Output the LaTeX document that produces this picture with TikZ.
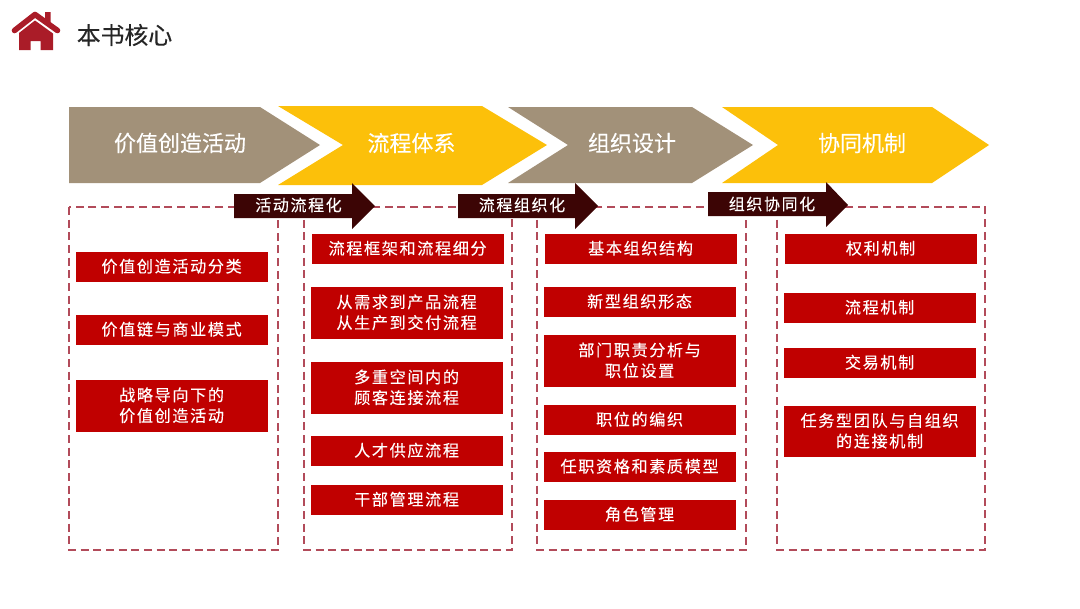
\documentclass[tikz,border=0pt]{standalone}
\usepackage{fontspec}
\setmainfont{Noto Sans CJK SC}
\newfontfamily\cjkbody[LetterSpace=10,FakeBold=0.1]{Noto Sans CJK SC}
\newfontfamily\cjkhead[FakeBold=0.25]{Noto Sans CJK SC}
\usetikzlibrary{positioning}
\definecolor{taupe}{RGB}{162,145,121}
\definecolor{amber}{RGB}{252,192,10}
\definecolor{boxred}{RGB}{192,0,0}
\definecolor{logored}{RGB}{170,28,40}
\definecolor{darkbrown}{RGB}{60,5,5}
\definecolor{dashred}{RGB}{178,75,90}
\definecolor{inkgrey}{RGB}{38,38,38}
\tikzset{
	redbox/.style={fill=boxred, inner sep=0pt},
	redtext/.style={text=white, inner sep=0pt, align=center, xshift=-0.5pt, yshift=0.75pt, font=\fontsize{12.1pt}{15.5pt}\selectfont\cjkbody},
	headtext/.style={text=white, inner sep=0pt, font=\fontsize{16.5pt}{20pt}\selectfont\cjkhead},
	flowtext/.style={text=white, inner sep=0pt, font=\fontsize{12pt}{15pt}\selectfont\cjkbody},
	dashbox/.style={draw=dashred, line width=1pt, dash pattern=on 6pt off 3.5pt}
}
\newcommand{\redrect}[6]{\node[redbox, minimum width=#3*0.75pt, minimum height=#4*0.75pt, anchor=north west, label={[redtext]center:{#6}}] (#5) at (#1,#2) {};}
\begin{document}
\begin{tikzpicture}[x=0.75pt, y=-0.75pt]
	\useasboundingbox (0,0) rectangle (1080,608);
	% logo
	\fill[logored] (45,12) -- (50.5,12) -- (50.5,24) -- (45,20) -- cycle;
	\draw[logored, line width=4.2pt, line cap=round, line join=round] (14.5,30.5) -- (35,14.5) -- (57.5,30.5);
	\fill[logored] (35,20.5) -- (53,33.5) -- (53,50) -- (40.5,50) -- (40.5,41) -- (30.5,41) -- (30.5,50) -- (19,50) -- (19,33) -- cycle;
	\node[anchor=west, inner sep=0pt, text=inkgrey, font=\fontsize{17.9pt}{20pt}\selectfont\cjkhead] (title) at (76.5,35) {本书核心};
	% top chevrons
	\fill[taupe] (69,107) -- (260,107) -- (320,145) -- (260,183) -- (69,183) -- cycle;
	\fill[amber] (278,106) -- (482,106) -- (547,145) -- (482,185) -- (278,185) -- (343,145) -- cycle;
	\fill[taupe] (508,107) -- (692,107) -- (753,145) -- (692,183) -- (508,183) -- (568,145) -- cycle;
	\fill[amber] (722,107) -- (932,107) -- (989,145) -- (932,183) -- (722,183) -- (778,145) -- cycle;
	\node[headtext] (value) at (180,143) {价值创造活动};
	\node[headtext] (process) at (411.5,143) {流程体系};
	\node[headtext] (organize) at (632,143) {组织设计};
	\node[headtext] (synergy) at (862,143) {协同机制};
	% dashed frames
	\draw[dashbox] (69,207) rectangle (278,550);
	\draw[dashbox] (304,207) rectangle (512,550);
	\draw[dashbox] (537,207) rectangle (746,550);
	\draw[dashbox] (777,207) rectangle (985,550);
	% dark arrows
	\fill[darkbrown] (234,194) -- (352,194) -- (352,183) -- (375,206) -- (352,229) -- (352,218) -- (234,218) -- cycle;
	\fill[darkbrown] (458,194) -- (575,194) -- (575,183) -- (598,206) -- (575,229) -- (575,218) -- (458,218) -- cycle;
	\fill[darkbrown] (708,192) -- (826,192) -- (826,182) -- (848,205) -- (826,227) -- (826,216) -- (708,216) -- cycle;
	\node[flowtext] (flowa) at (298.5,205) {活动流程化};
	\node[flowtext] (flowb) at (522,205) {流程组织化};
	\node[flowtext] (flowc) at (772,204) {组织协同化};
	% first column
	\redrect{76}{252}{192}{30}{cola}{价值创造活动分类}
	\redrect{76}{315}{192}{30}{colb}{价值链与商业模式}
	\redrect{76}{380}{192}{52}{colc}{战略导向下的\\价值创造活动}
	% second column
	\redrect{312}{234}{192}{30}{prca}{流程框架和流程细分}
	\redrect{311}{287}{192}{52}{prcb}{从需求到产品流程\\从生产到交付流程}
	\redrect{311}{362}{192}{52}{prcc}{多重空间内的\\顾客连接流程}
	\redrect{311}{436}{192}{30}{prcd}{人才供应流程}
	\redrect{311}{485}{192}{30}{prce}{干部管理流程}
	% third column
	\redrect{545}{234}{192}{30}{orga}{基本组织结构}
	\redrect{544}{287}{192}{30}{orgb}{新型组织形态}
	\redrect{544}{335}{192}{52}{orgc}{部门职责分析与\\职位设置}
	\redrect{544}{405}{192}{30}{orgd}{职位的编织}
	\redrect{544}{452}{192}{30}{orge}{任职资格和素质模型}
	\redrect{544}{500}{192}{30}{orgf}{角色管理}
	% fourth column
	\redrect{785}{234}{192}{30}{syna}{权利机制}
	\redrect{784}{293}{192}{30}{synb}{流程机制}
	\redrect{784}{348}{192}{30}{sync}{交易机制}
	\redrect{784}{406}{192}{51}{synd}{任务型团队与自组织\\的连接机制}
\end{tikzpicture}
\end{document}
